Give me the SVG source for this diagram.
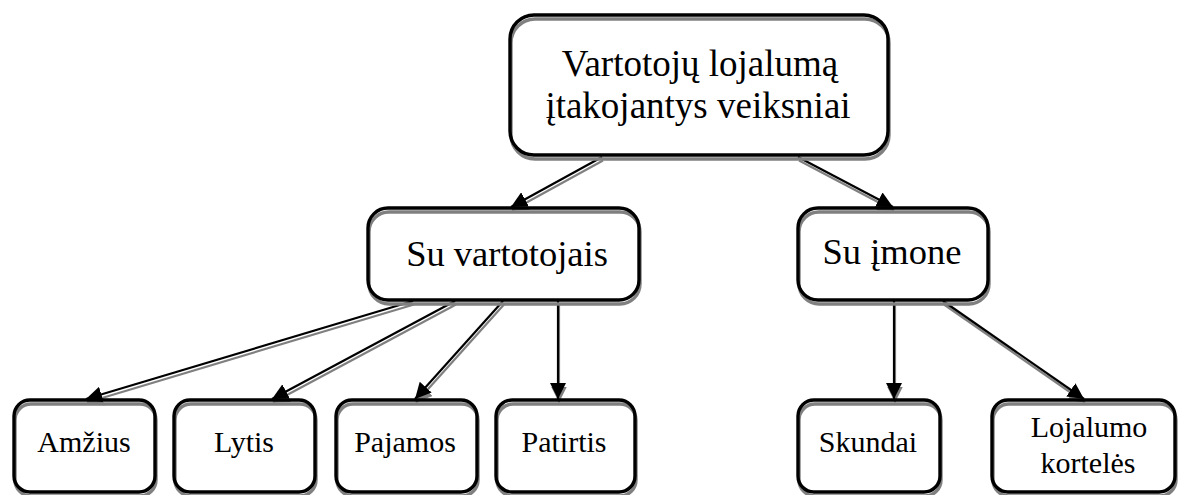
<svg xmlns="http://www.w3.org/2000/svg" width="1179" height="495" viewBox="0 0 1179 495">
  <style>
    .box { fill: none; stroke: #000; stroke-width: 3.4; }
    .box-shadow { fill: none; stroke: #808080; stroke-width: 3.4; }
    .label { font-family: "Liberation Serif", "Times New Roman", serif; fill: #000; text-anchor: middle; }
    .big { font-size: 37px; }
    .mid { font-size: 36.5px; }
    .small { font-size: 30px; }
    .link { stroke: #000; stroke-width: 2.2; fill: none; marker-end: url(#head); }
    .link-shadow { stroke: #808080; stroke-width: 2.2; fill: none; marker-end: url(#head-shadow); }
  </style>
  <defs>
    <marker id="head" viewBox="0 0 16 16" refX="16" refY="8" markerWidth="16" markerHeight="16" markerUnits="userSpaceOnUse" orient="auto">
      <path d="M0,0 L16,8 L0,16 z" fill="#000"/>
    </marker>
    <marker id="head-shadow" viewBox="0 0 16 16" refX="16" refY="8" markerWidth="16" markerHeight="16" markerUnits="userSpaceOnUse" orient="auto">
      <path d="M0,0 L16,8 L0,16 z" fill="#808080"/>
    </marker>
  </defs>
  <rect width="1179" height="495" fill="#fff"/>

  <!-- connectors: gray offset copy underneath, black line on top -->
  <g id="connectors">
    <g transform="translate(1,3.5)">
      <line class="link-shadow" x1="602" y1="157" x2="511" y2="207"/>
      <line class="link-shadow" x1="798" y1="157" x2="893" y2="207"/>
      <line class="link-shadow" x1="413" y1="301" x2="86" y2="399"/>
      <line class="link-shadow" x1="455" y1="301" x2="272" y2="399"/>
      <line class="link-shadow" x1="503" y1="301" x2="415" y2="399"/>
      <line class="link-shadow" x1="558" y1="301" x2="558" y2="399"/>
      <line class="link-shadow" x1="894" y1="301" x2="894" y2="399"/>
      <line class="link-shadow" x1="943" y1="301" x2="1084" y2="399"/>
    </g>
    <line class="link" x1="602" y1="157" x2="511" y2="207"/>
    <line class="link" x1="798" y1="157" x2="893" y2="207"/>
    <line class="link" x1="413" y1="301" x2="86" y2="399"/>
    <line class="link" x1="455" y1="301" x2="272" y2="399"/>
    <line class="link" x1="503" y1="301" x2="415" y2="399"/>
    <line class="link" x1="558" y1="301" x2="558" y2="399"/>
    <line class="link" x1="894" y1="301" x2="894" y2="399"/>
    <line class="link" x1="943" y1="301" x2="1084" y2="399"/>
  </g>

  <g id="root">
    <rect class="box-shadow" x="511" y="19" width="378" height="140" rx="24"/>
    <rect class="box" x="510" y="15" width="378" height="140" rx="24"/>
    <text class="label big" x="700" y="76">Vartotojų lojalumą</text>
    <text class="label big" x="698" y="118">įtakojantys veiksniai</text>
  </g>

  <g id="su-vartotojais">
    <rect class="box-shadow" x="369" y="212" width="271" height="92" rx="20"/>
    <rect class="box" x="368" y="208" width="271" height="92" rx="20"/>
    <text class="label mid" x="507" y="266">Su vartotojais</text>
  </g>

  <g id="su-imone">
    <rect class="box-shadow" x="799" y="212" width="190" height="92" rx="20"/>
    <rect class="box" x="798" y="208" width="190" height="92" rx="20"/>
    <text class="label mid" x="892" y="264">Su įmone</text>
  </g>

  <g id="amzius">
    <rect class="box-shadow" x="15" y="404" width="141" height="92" rx="16"/>
    <rect class="box" x="14" y="400" width="141" height="92" rx="16"/>
    <text class="label small" x="84" y="452">Amžius</text>
  </g>

  <g id="lytis">
    <rect class="box-shadow" x="175" y="404" width="141" height="92" rx="16"/>
    <rect class="box" x="174" y="400" width="141" height="92" rx="16"/>
    <text class="label small" x="244" y="452">Lytis</text>
  </g>

  <g id="pajamos">
    <rect class="box-shadow" x="337" y="404" width="141" height="92" rx="16"/>
    <rect class="box" x="336" y="400" width="141" height="92" rx="16"/>
    <text class="label small" x="405" y="452">Pajamos</text>
  </g>

  <g id="patirtis">
    <rect class="box-shadow" x="497" y="404" width="139" height="92" rx="16"/>
    <rect class="box" x="496" y="400" width="139" height="92" rx="16"/>
    <text class="label small" x="564" y="452">Patirtis</text>
  </g>

  <g id="skundai">
    <rect class="box-shadow" x="799" y="404" width="142" height="92" rx="16"/>
    <rect class="box" x="798" y="400" width="142" height="92" rx="16"/>
    <text class="label small" x="868" y="452">Skundai</text>
  </g>

  <g id="lojalumo-korteles">
    <rect class="box-shadow" x="993" y="404" width="183" height="92" rx="16"/>
    <rect class="box" x="992" y="400" width="183" height="92" rx="16"/>
    <text class="label small" x="1089" y="437">Lojalumo</text>
    <text class="label small" x="1088" y="473">kortelės</text>
  </g>
</svg>
